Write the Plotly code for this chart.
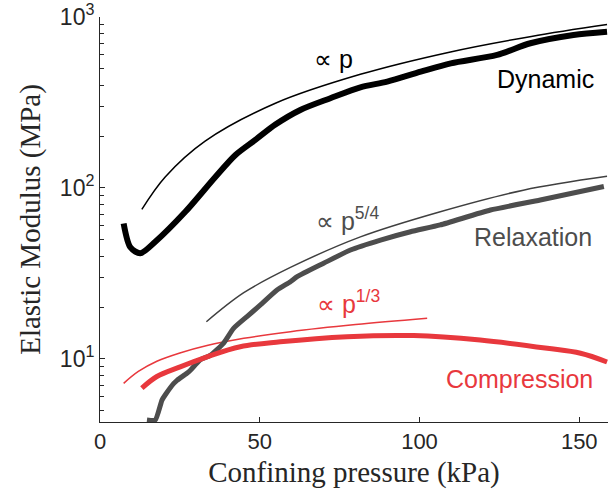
import math
import plotly.graph_objects as go

# ---- data ----
dyn_p = [7.4, 9.5, 12.6, 17.3, 26.7, 36.1, 42.4, 48.6, 54.9, 62.7, 72.1, 81.5, 89.9, 100.4, 109.8, 124.3, 134.7, 148.2, 158.7]
dyn_E = [62, 45, 41.5, 48.5, 72.6, 116, 156, 191, 235, 286, 335, 388, 419, 479, 536, 600, 702, 785, 820]

fitp_p = [13.1, 20.4, 32.9, 54.9, 81.5, 109.7, 135.0, 158.7]
fitp_E = [75, 116, 188, 313, 462, 625, 770, 903]

rel_p = [14.7, 17.3, 19.4, 20.5, 23.1, 24.1, 27.2, 28.3, 31.4, 34.5, 38.7, 41.8, 46.0, 50.2, 55.4, 59.6, 61.7, 70.0, 78.4, 87.8, 97.2, 106.5, 122.2, 137.8, 157.7]
rel_E = [4.4, 4.4, 5.75, 6.2, 7.2, 7.5, 8.25, 8.6, 9.9, 10.5, 12.4, 15.1, 17.7, 20.7, 25.3, 28.3, 30.3, 36.3, 43.4, 49.6, 55.5, 60.8, 74.3, 85.1, 102]

fit54_p = [33.3, 45.0, 59.6, 81.5, 106.5, 132.5, 158.7]
fit54_E = [16.5, 24.4, 34.3, 51.8, 72.7, 97.1, 117]

comp_p = [13.1, 17.8, 25.1, 33.5, 43.9, 56.4, 77.3, 98.2, 119.0, 140.0, 150.4, 158.7]
comp_E = [6.75, 7.9, 9.0, 10.3, 11.8, 12.6, 13.5, 13.7, 12.9, 11.55, 10.8, 9.6]

fit13_p = [7.4, 12.0, 17.8, 25.0, 33.5, 45.0, 59.6, 80.0, 102.4]
fit13_E = [7.2, 8.45, 9.7, 10.85, 12.0, 13.2, 14.45, 15.9, 17.3]

ytick_vals = [10, 100, 1000]
ytick_text = ["10<sup>1</sup>", "10<sup>2</sup>", "10<sup>3</sup>"]
xtick_vals = [0, 50, 100, 150]
yminor_vals = [5, 6, 7, 8, 9, 20, 30, 40, 50, 60, 70, 80, 90, 200, 300, 400, 500, 600, 700, 800, 900]

BLACK = "#000000"
GREY = "#4d4d4d"
RED = "#e8383d"

fig = go.Figure()
fig.add_trace(go.Scatter(x=fitp_p, y=fitp_E, mode="lines", line=dict(color=BLACK, width=1.5, shape="spline")))
fig.add_trace(go.Scatter(x=fit54_p, y=fit54_E, mode="lines", line=dict(color="#404040", width=1.5, shape="spline")))
fig.add_trace(go.Scatter(x=fit13_p, y=fit13_E, mode="lines", line=dict(color=RED, width=1.5, shape="spline")))
fig.add_trace(go.Scatter(x=dyn_p, y=dyn_E, mode="lines", line=dict(color=BLACK, width=6, shape="spline", smoothing=0.8)))
fig.add_trace(go.Scatter(x=rel_p, y=rel_E, mode="lines", line=dict(color=GREY, width=5, shape="spline", smoothing=0.5)))
fig.add_trace(go.Scatter(x=comp_p, y=comp_E, mode="lines", line=dict(color=RED, width=5, shape="spline")))

SANS = "Liberation Sans, Arial, sans-serif"
SERIF = "Liberation Serif, Times New Roman, serif"
ann_font = 25


def ann(x, y, text, color, xanchor="center"):
    fig.add_annotation(x=x, y=math.log10(y), xref="x", yref="y", text=text, showarrow=False,
                       xanchor=xanchor, yanchor="middle",
                       font=dict(family=SANS, size=ann_font, color=color))


ann(73.0, 568, "\u221d p", BLACK)
ann(139.4, 434, "Dynamic", BLACK)
ann(66.9, 66, "\u221d p<sup>5/4</sup>", GREY, "left")
ann(135.6, 51.7, "Relaxation", GREY)
ann(67.4, 21.5, "\u221d p<sup>1/3</sup>", RED, "left")
ann(131.3, 7.64, "Compression", RED)

AX = "#262626"
fig.update_layout(
    width=608, height=500,
    margin=dict(l=100, r=0, t=17, b=78),
    paper_bgcolor="white", plot_bgcolor="white",
    showlegend=False,
    xaxis=dict(range=[0, 159.0], tickvals=xtick_vals, ticks="inside", ticklen=5, tickcolor=AX,
               showline=True, linecolor=AX, linewidth=1, showgrid=False, zeroline=False,
               tickfont=dict(family=SANS, size=22, color=AX),
               title=dict(text="Confining pressure (kPa)", font=dict(family=SERIF, size=29, color=AX), standoff=8)),
    yaxis=dict(type="log", range=[math.log10(4.28), 3], tickvals=ytick_vals, ticktext=ytick_text,
               ticks="inside", ticklen=5, tickcolor=AX,
               minor=dict(ticks="inside", ticklen=4, tickcolor=AX, tickvals=yminor_vals),
               showline=True, linecolor=AX, linewidth=1, showgrid=False, zeroline=False,
               tickfont=dict(family=SANS, size=23, color=AX),
               title=dict(text="Elastic Modulus (MPa)", font=dict(family=SERIF, size=29, color=AX), standoff=10)),
)

fig.write_html("out.html")
